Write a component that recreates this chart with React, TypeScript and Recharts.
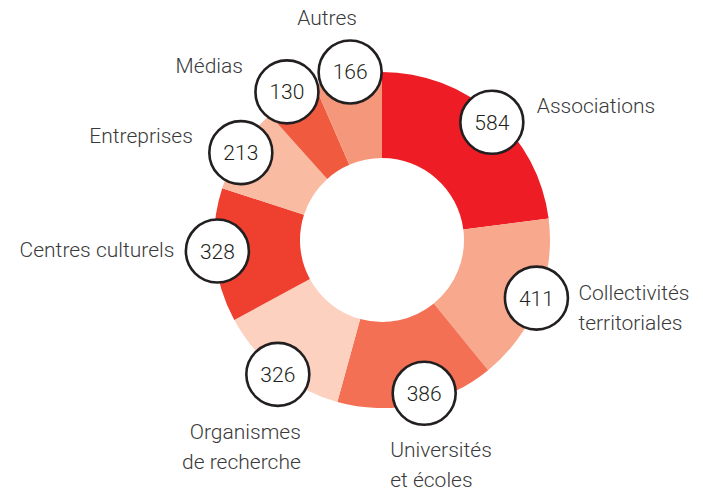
import React from 'react';
import { PieChart, Pie, Cell } from 'recharts';

const categories = [
  'Associations',
  'Collectivités territoriales',
  'Universités et écoles',
  'Organismes de recherche',
  'Centres culturels',
  'Entreprises',
  'Médias',
  'Autres',
];
const values = [584, 411, 386, 326, 328, 213, 130, 166];
const labelLines = [
  ['Associations'],
  ['Collectivités', 'territoriales'],
  ['Universités', 'et écoles'],
  ['Organismes', 'de recherche'],
  ['Centres culturels'],
  ['Entreprises'],
  ['Médias'],
  ['Autres'],
];
const colors = ['#EE1D25', '#F8A88C', '#F37054', '#FDD1C0', '#EF3F2F', '#F9BBA2', '#F05B3F', '#F5977A'];

const data = categories.map((name, i) => ({ name, value: values[i], lines: labelLines[i] }));

// label layout: bubble distance from centre, angular nudge, text offset from bubble centre, anchor
const layout: Record<string, { r: number; da: number; dx: number; dy: number; anchor: 'start' | 'end' | 'middle' }> = {
  'Associations': { r: 161, da: -1.7, dx: 45, dy: -9, anchor: 'start' },
  'Collectivités territoriales': { r: 165, da: 1.1, dx: 42, dy: 2, anchor: 'start' },
  'Universités et écoles': { r: 159, da: 3.5, dx: -34, dy: 64, anchor: 'start' },
  'Organismes de recherche': { r: 170, da: 0.7, dx: 23, dy: 65, anchor: 'end' },
  'Centres culturels': { r: 165, da: -1.4, dx: -43, dy: 6, anchor: 'end' },
  'Entreprises': { r: 166, da: 1.3, dx: -48, dy: -10, anchor: 'end' },
  'Médias': { r: 176, da: 0, dx: -44, dy: -19, anchor: 'end' },
  'Autres': { r: 171, da: -1, dx: -23, dy: -47, anchor: 'middle' },
};

const FONT = 'Roboto, "Liberation Sans", Arial, sans-serif';
const RAD = Math.PI / 180;

const renderLabel = (props: any) => {
  const { cx, cy, midAngle, index } = props;
  const d = data[index];
  const l = layout[d.name];
  const a = midAngle + l.da;
  const bx = cx + l.r * Math.cos(-a * RAD);
  const by = cy + l.r * Math.sin(-a * RAD);
  return (
    <g key={`lbl-${index}`}>
      <circle cx={bx} cy={by} r={31.5} fill="#fff" stroke="#231F20" strokeWidth={2.6} />
      <text x={bx} y={by + 7.5} textAnchor="middle" fontFamily={FONT} fontWeight={300} fontSize={21} fill="#231F20">
        {d.value}
      </text>
      <text x={bx + l.dx} y={by + l.dy} textAnchor={l.anchor} fontFamily={FONT} fontWeight={300} fontSize={21} fill="#3a3a3a">
        {d.lines.map((line: string, j: number) => (
          <tspan key={j} x={bx + l.dx} dy={j === 0 ? 0 : 30}>
            {line}
          </tspan>
        ))}
      </text>
    </g>
  );
};

export default function App() {
  return (
    <div style={{ position: 'absolute', left: 0, top: 0, background: '#fff' }}>
      <PieChart width={703} height={496} margin={{ top: 0, right: 0, bottom: 0, left: 0 }}>
        <Pie
          data={data}
          dataKey="value"
          nameKey="name"
          cx={382}
          cy={240}
          innerRadius={82}
          outerRadius={168}
          startAngle={90}
          endAngle={-270}
          stroke="none"
          labelLine={false}
          label={renderLabel}
          isAnimationActive={false}
        >
          {data.map((d, i) => (
            <Cell key={d.name} fill={colors[i]} stroke="none" />
          ))}
        </Pie>
      </PieChart>
    </div>
  );
}
